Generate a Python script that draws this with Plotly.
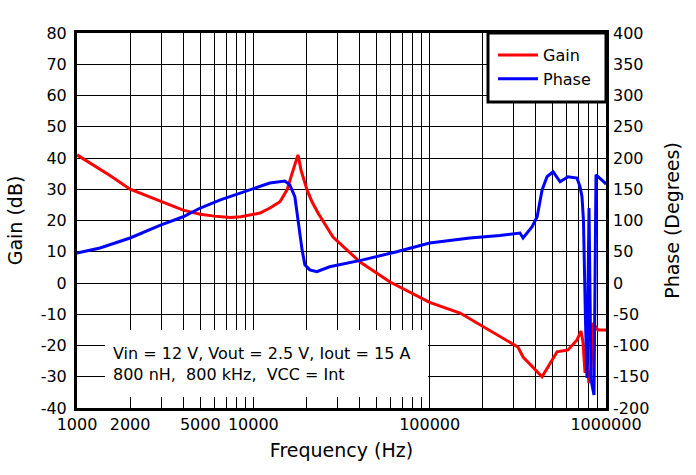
import plotly.graph_objects as go

# ---- data ----
gain_freq = [1000, 1185, 1538, 2000, 2500, 3000, 4000, 5000, 6000, 7373, 8500,
             10910, 12430, 14160, 15530, 16570, 17920, 18630, 20160, 21510, 23280,
             28300, 40300, 59600, 100000, 148700, 192900, 250700, 316700, 338700,
             434000, 528000, 609000, 684700, 721500, 740700, 760300, 780400,
             801100, 822200, 844000, 900600, 1000000]
gain_db = [41, 38.4, 34.4, 30, 27.8, 26, 23.3, 22, 21.4, 21, 21.2,
           22.4, 24, 26, 29.8, 35, 41, 36.2, 29.8, 26, 22.4,
           14.7, 6.7, 0.3, -6.2, -9.6, -13.4, -17.3, -20.5, -23.7,
           -30, -22, -21.4, -18.2, -15.4, -18.9, -28.8, -25.6,
           -32, -27.8, -12.8, -15, -15]

phase_freq = [1000, 1350, 2000, 3000, 4000, 5000, 6500, 8400, 9600, 12400, 15100,
              16100, 17200, 17900, 18900, 19600, 20900, 22900, 27100, 41800, 65000,
              100000, 169000, 250000, 325000, 338700, 381000, 407000, 434000, 463000,
              501000, 549000, 609000, 684700, 712000, 731000, 745000, 765000, 780400,
              801100, 822200, 855000, 877600, 987200, 1000000]
phase_deg = [48, 56, 72, 93, 106, 120, 133, 144, 149, 160, 163,
             157, 138, 101, 53, 29, 21, 18, 26, 37, 50,
             64, 72, 76, 80, 72, 90, 106, 149, 170,
             178, 162, 170, 168, 154, 138, 100, -60, -152,
             120, -155, -179, 173, 160, 158]

x_labels = {1000: "1000", 2000: "2000", 5000: "5000", 10000: "10000",
            100000: "100000", 1000000: "1000000"}
gain_ticks = list(range(-40, 81, 10))
phase_ticks = list(range(-200, 401, 50))

x_tickvals = [m * 10 ** e for e in (3, 4, 5) for m in range(1, 10)] + [1000000]
x_ticktext = [x_labels.get(v, "") for v in x_tickvals]

FONT = "DejaVu Sans"

fig = go.Figure()
fig.add_trace(go.Scatter(x=gain_freq, y=gain_db, name="Gain", mode="lines",
                         line=dict(color="#ff0000", width=3)))
fig.add_trace(go.Scatter(x=phase_freq, y=phase_deg, name="Phase", mode="lines",
                         line=dict(color="#0000ff", width=3), yaxis="y2"))

fig.update_layout(
    width=696, height=475,
    margin=dict(l=77, r=90, t=33, b=67),
    paper_bgcolor="white", plot_bgcolor="white",
    font=dict(family=FONT, size=16, color="black"),
    showlegend=True,
    legend=dict(x=0.7864, y=0.9867, xanchor="left", yanchor="top",
                bgcolor="rgba(0,0,0,0)", borderwidth=0, itemwidth=40,
                font=dict(family=FONT, size=16, color="black"), tracegroupgap=0),
    xaxis=dict(type="log", range=[3, 6], tickvals=x_tickvals, ticktext=x_ticktext,
               showgrid=True, gridcolor="black", gridwidth=1, ticks="",
               showline=True, linecolor="black", linewidth=3, mirror=True,
               title=dict(text="Frequency (Hz)", standoff=11),
               tickfont=dict(family=FONT, size=16), ticklabelstandoff=0),
    yaxis=dict(range=[-40, 80], tickvals=gain_ticks, ticktext=[str(v) for v in gain_ticks],
               showgrid=True, gridcolor="black", gridwidth=1, zeroline=False, ticks="",
               showline=True, linecolor="black", linewidth=3, mirror=True,
               title=dict(text="Gain (dB)", standoff=14),
               ticklabelstandoff=4, tickfont=dict(family=FONT, size=16)),
    yaxis2=dict(range=[-200, 400], tickvals=phase_ticks, ticktext=[str(v) for v in phase_ticks],
                overlaying="y", side="right", showgrid=False, zeroline=False, ticks="",
                showline=False,
                title=dict(text="Phase (Degrees)", standoff=17),
                ticklabelstandoff=6, tickfont=dict(family=FONT, size=16)),
)

# white box behind the condition text
fig.add_shape(type="rect", xref="paper", yref="paper",
              x0=(105 - 77) / 529, x1=(428 - 77) / 529,
              y0=(408 - 397) / 375, y1=(408 - 330) / 375,
              fillcolor="white", line=dict(width=0), layer="above")
fig.add_annotation(xref="paper", yref="paper", x=(111 - 77) / 529, y=(408 - 364) / 375,
                   xanchor="left", yanchor="middle", align="left", showarrow=False,
                   text="Vin = 12 V, Vout = 2.5 V, Iout = 15 A<br>800 nH,  800 kHz,  VCC = Int",
                   font=dict(family=FONT, size=16, color="black"))
# legend frame
fig.add_shape(type="rect", xref="paper", yref="paper",
              x0=(488 - 77) / 529, x1=1.0, y0=(408 - 102) / 375, y1=1.0,
              fillcolor="white", line=dict(color="black", width=3), layer="above")

fig.write_html("out.html", config={"displayModeBar": False},
               post_script="document.body.style.margin='0px';")
